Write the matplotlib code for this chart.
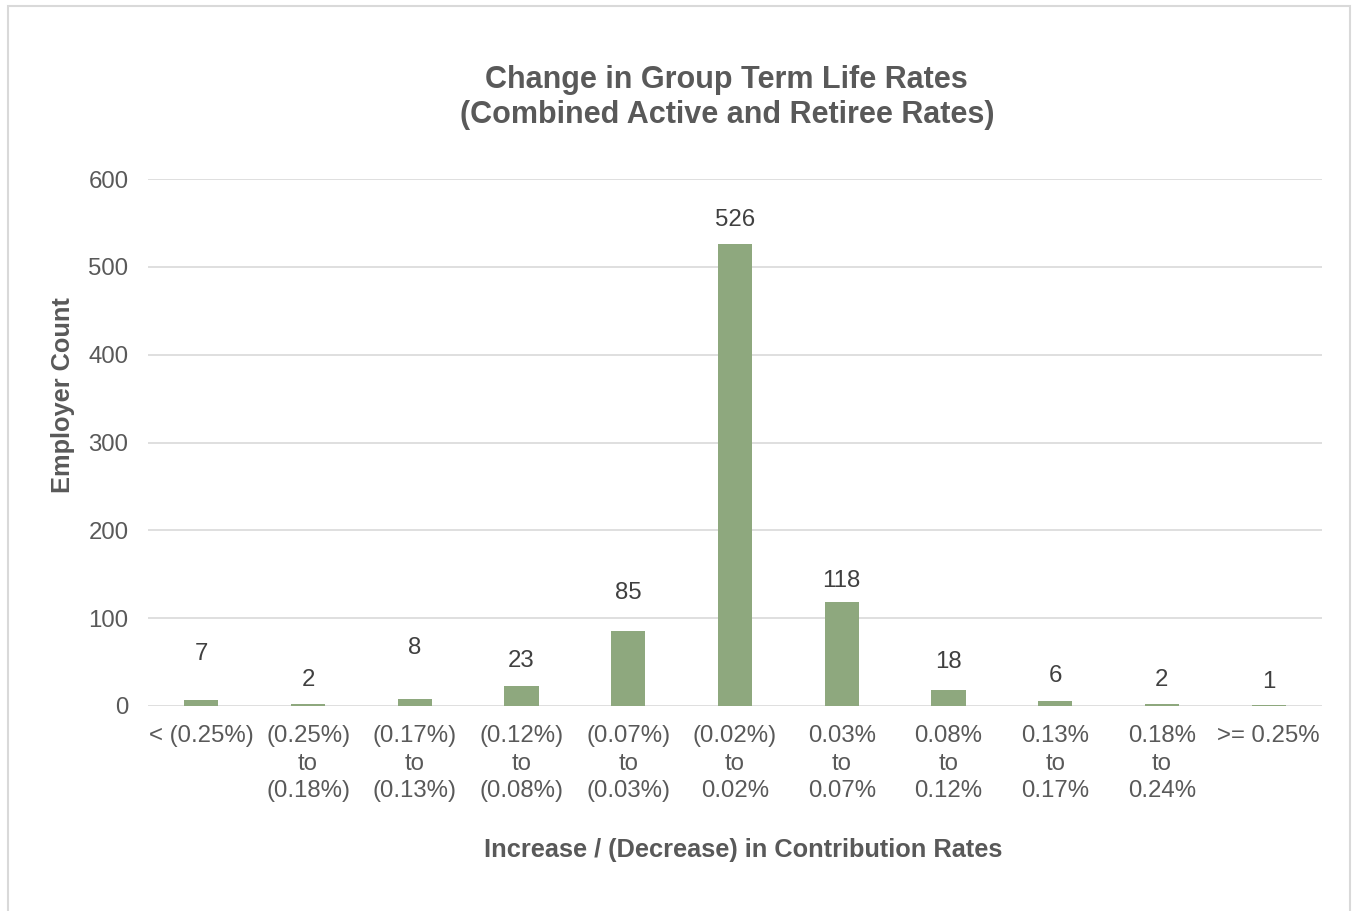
import numpy as np
import matplotlib.pyplot as plt
from matplotlib.patches import Rectangle

# --- donnees ---------------------------------------------------------------
categories = ['< (0.25%)', '(0.25%)\nto\n(0.18%)', '(0.17%)\nto\n(0.13%)',
              '(0.12%)\nto\n(0.08%)', '(0.07%)\nto\n(0.03%)',
              '(0.02%)\nto\n0.02%', '0.03%\nto\n0.07%', '0.08%\nto\n0.12%',
              '0.13%\nto\n0.17%', '0.18%\nto\n0.24%', '>= 0.25%']
counts = [7, 2, 8, 23, 85, 526, 118, 18, 6, 2, 1]

# decalage vertical des etiquettes (pixels au-dessus de la barre)
label_lift = [46, 24, 51, 25, 38, 24, 21, 28, 25, 24, 23]

DPI = 100
plt.rcParams['font.family'] = ['Liberation Sans', 'DejaVu Sans']

fig = plt.figure(figsize=(13.53, 9.11), dpi=DPI)
ax = fig.add_axes([148 / 1353, 1 - 706 / 911, (1322 - 148) / 1353, (706 - 179) / 911])

# cadre du graphique
fig.patches.append(Rectangle((8 / 1353, -0.05), (1350 - 8) / 1353, 1.05 - 6 / 911,
                             transform=fig.transFigure, fill=False,
                             edgecolor='#D9D9D9', lw=1.5))

x = np.arange(len(categories))
bars = ax.bar(x, counts, width=0.32, color='#8EA87E', zorder=3)

for xi, c, lift in zip(x, counts, label_lift):
    ax.annotate(str(c), (xi, c), xytext=(0, lift * 72 / DPI),
                textcoords='offset points', ha='center', va='center',
                fontsize=17.3, color='#404040')

ax.set_xlim(-0.5, len(categories) - 0.5)
ax.set_ylim(0, 600)
ax.set_yticks(np.arange(0, 601, 100))
ax.yaxis.grid(True, color='#D9D9D9', lw=1.2, zorder=0)
ax.set_axisbelow(True)
for s in ax.spines.values():
    s.set_visible(False)

ax.set_xticks(x)
ax.set_xticklabels(categories, linespacing=1.32)
ax.tick_params(axis='both', length=0, labelsize=17.3, labelcolor='#595959')
ax.tick_params(axis='x', pad=14)
ax.tick_params(axis='y', pad=14)

ax.set_title('Change in Group Term Life Rates\n(Combined Active and Retiree Rates)',
             fontsize=22, fontweight='bold', color='#595959', pad=40,
             linespacing=1.22, x=0.493)
ax.set_xlabel('Increase / (Decrease) in Contribution Rates', fontsize=18.3,
              fontweight='bold', color='#595959', labelpad=26)
ax.xaxis.label.set_x(0.507)
ax.set_ylabel('Employer Count', fontsize=18.3, fontweight='bold',
              color='#595959', labelpad=10)
ax.yaxis.label.set_y(0.59)

fig.savefig('out.png', dpi=DPI)
